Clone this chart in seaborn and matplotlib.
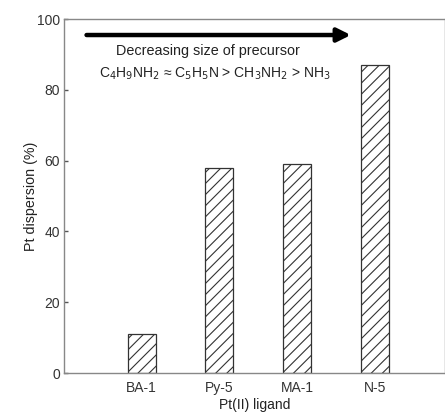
import matplotlib
matplotlib.use("Agg")
import matplotlib.pyplot as plt
import seaborn as sns
import pandas as pd

categories = ["BA-1", "Py-5", "MA-1", "N-5"]
dispersion = [11, 58, 59, 87]
yticks = [0, 20, 40, 60, 80, 100]

sns.set_style("ticks")
plt.rcParams['font.family'] = ['Liberation Sans', 'DejaVu Sans']
plt.rcParams['hatch.linewidth'] = 0.8

df = pd.DataFrame({"ligand": categories, "disp": dispersion})

fig = plt.figure(figsize=(4.45, 4.15), dpi=100)
ax = fig.add_axes([0.1438, 0.101, 0.856, 0.853])
sns.barplot(data=df, x="ligand", y="disp", ax=ax, color="white",
            edgecolor="#333333", linewidth=0.9, width=0.36, hatch="///")
for p in ax.patches:
    p.set_hatch("///")
    p.set_facecolor("white")

ax.set_xlim(-1.0, 3.9)
ax.set_ylim(0, 100)
ax.set_yticks(yticks)
ax.yaxis.set_ticks_position('left')
ax.tick_params(axis='y', which='major', left=True, labelsize=10, length=3,
               width=1.0, direction="in", pad=3, color="#555555",
               labelcolor="#333333")
ax.tick_params(axis='x', labelsize=10, length=0, pad=6, labelcolor="#333333")
for s in ax.spines.values():
    s.set_color("#888888")
    s.set_linewidth(1.0)
ax.set_xlabel("Pt(II) ligand", fontsize=10, color="#222222", labelpad=2)
ax.set_ylabel("Pt dispersion (%)", fontsize=10.3, color="#222222", labelpad=-1)

ax.annotate("", xy=(2.69, 95.5), xytext=(-0.71, 95.5),
            arrowprops=dict(arrowstyle="-|>,head_length=0.8,head_width=0.4",
                            lw=3.2, color="black", shrinkA=0, shrinkB=0))
ax.text(0.85, 91.0, "Decreasing size of precursor", ha="center", va="center",
        fontsize=10.4, color="#222222")
ax.text(0.94, 84.5, r"C$_4$H$_9$NH$_2$ ≈ C$_5$H$_5$N > CH$_3$NH$_2$ > NH$_3$",
        ha="center", va="center", fontsize=10, color="#222222")

fig.savefig("out.png", dpi=100)
